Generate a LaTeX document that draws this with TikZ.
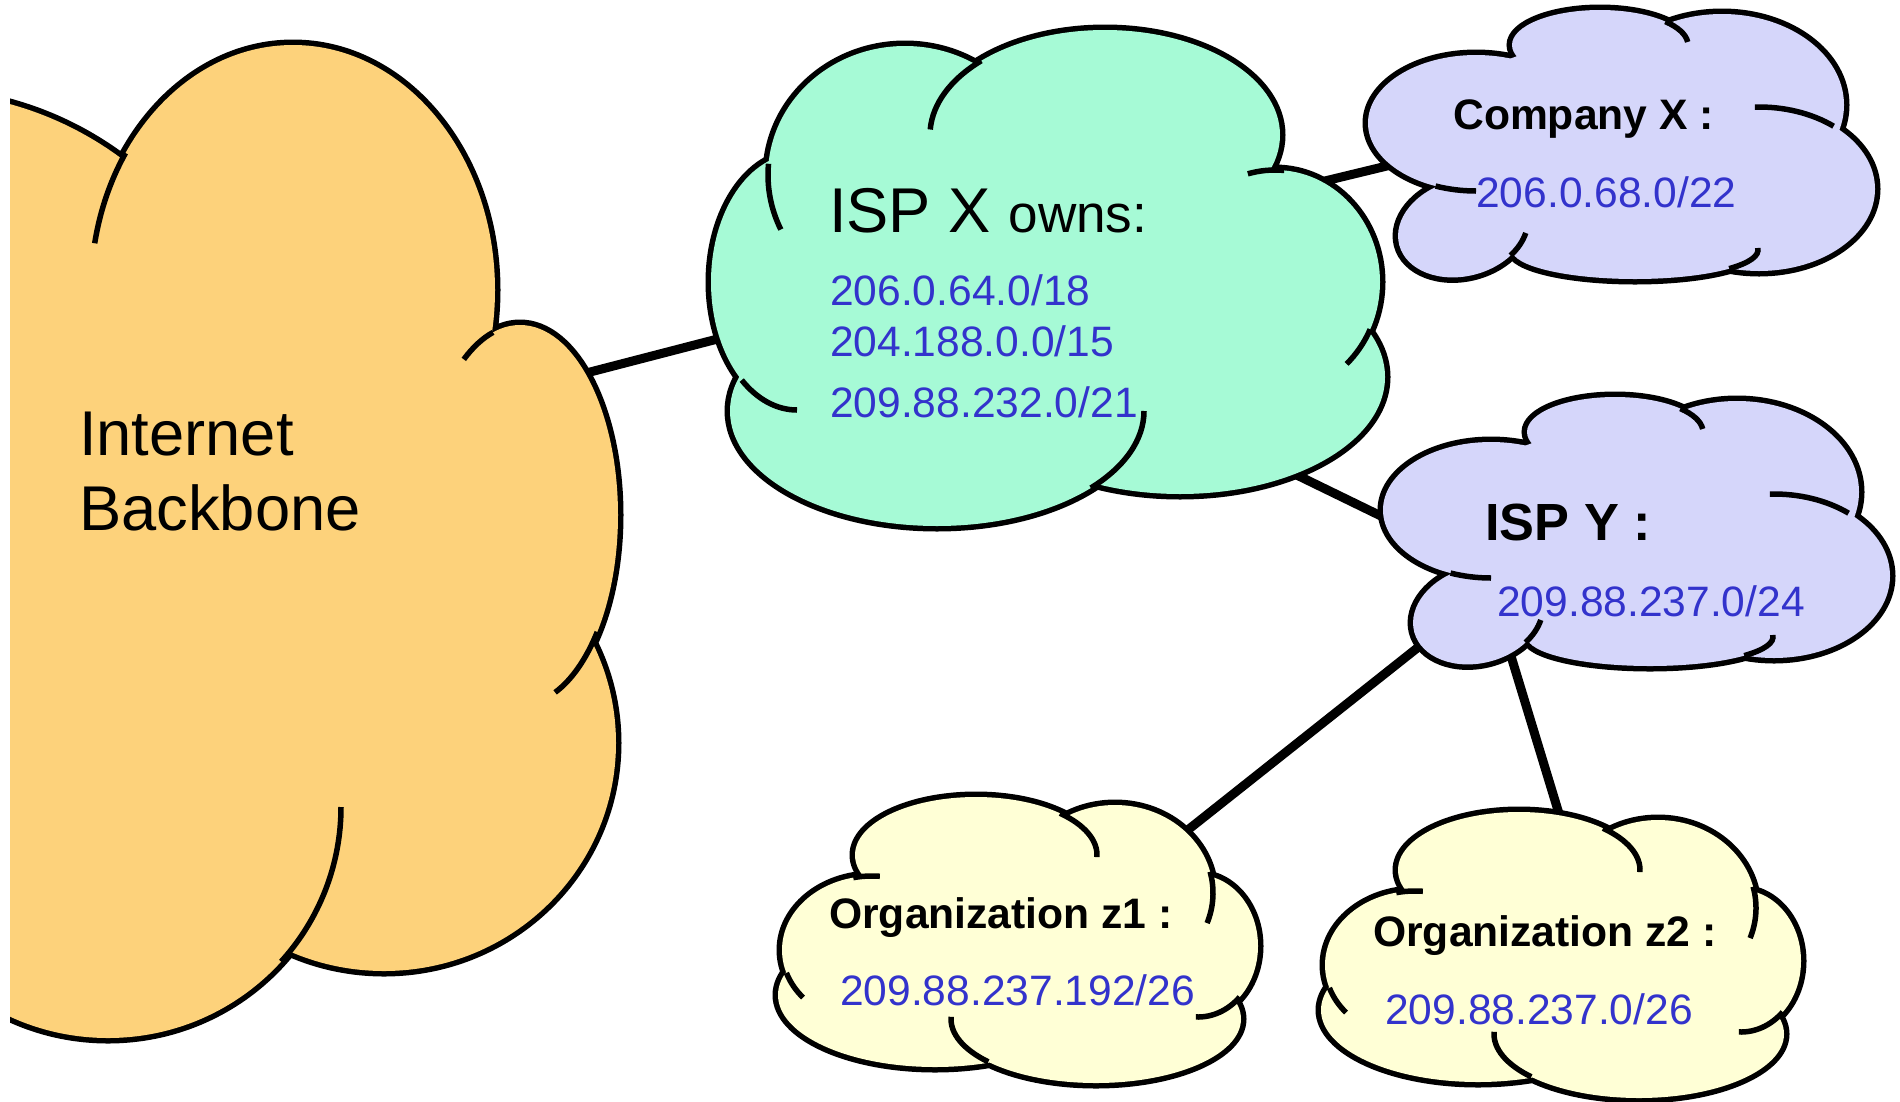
\documentclass[tikz,border=0pt]{standalone}
\usepackage{fontspec}
\setmainfont{Liberation Sans}
\definecolor{bbfill}{RGB}{253,210,123}
\definecolor{ispxfill}{RGB}{166,250,214}
\definecolor{lavfill}{RGB}{213,214,250}
\definecolor{orgfill}{RGB}{255,255,214}
\definecolor{addrblue}{RGB}{51,51,204}
% one lobe of a cloud: centre x, centre y, x radius, y radius
\newcommand\lobe[4]{(#1,#2) ellipse [x radius=#3, y radius=#4]}
% the part of a lobe that runs on inside the cloud: centre, radii, from angle, to angle
\newcommand\lobearc[6]{(#1,#2) ++(#5:#3 and #4) arc [start angle=#5, end angle=#6, x radius=#3, y radius=#4]}
\tikzset{
  rim/.style={line width=11bp},   % twice the outline: the fill hides its inner half
  inner/.style={line width=5.5bp},
  link/.style={line width=9bp},
  bigtxt/.style={inner sep=0pt, anchor=base west, font=\fontsize{63.5}{74}\selectfont},
  lbl/.style={inner sep=0pt, anchor=base west, font=\bfseries\fontsize{42.8}{50}\selectfont},
  addr/.style={inner sep=0pt, anchor=base west, text=addrblue, font=\fontsize{42.7}{50}\selectfont},
  lavcloud/.pic={
    \draw[rim] \lobe{1476}{123}{108}{68} \lobe{1600}{45}{88}{35} \lobe{1722}{105}{122}{91}
               \lobe{1759}{189}{116}{82} \lobe{1635}{250}{123}{29};
    \draw[rim, shift={(1463,228)}, rotate=15] (0,0) ellipse [x radius=66, y radius=48];
    \fill[lavfill] \lobe{1476}{123}{108}{68} \lobe{1600}{45}{88}{35} \lobe{1722}{105}{122}{91}
               \lobe{1759}{189}{116}{82} \lobe{1635}{250}{123}{29};
    \fill[lavfill, shift={(1463,228)}, rotate=15] (0,0) ellipse [x radius=66, y radius=48];
    \fill[lavfill] (1420,100) -- (1480,70) -- (1560,40) -- (1700,40) -- (1800,90) -- (1840,180)
               -- (1760,250) -- (1530,248) -- (1440,225) -- (1470,180) -- cycle;
    \draw[inner] \lobearc{1476}{123}{108}{68}{90}{112}
                 \lobearc{1600}{45}{88}{35}{318}{355}
                 \lobearc{1759}{189}{116}{82}{268}{310}
                 \lobearc{1635}{250}{123}{29}{-4}{40};
    \draw[inner, shift={(1463,228)}, rotate=15] \lobearc{0}{0}{66}{48}{26}{54};
  },
  orgcloud/.pic={
    \draw[rim] \lobe{872}{950}{90}{74} \lobe{976}{855}{121}{58} \lobe{1115}{893}{98}{88}
               \lobe{1198}{946}{60}{71} \lobe{1096}{1019}{145}{64} \lobe{935}{995}{157}{72};
    \fill[orgfill] \lobe{872}{950}{90}{74} \lobe{976}{855}{121}{58} \lobe{1115}{893}{98}{88}
               \lobe{1198}{946}{60}{71} \lobe{1096}{1019}{145}{64} \lobe{935}{995}{157}{72};
    \fill[orgfill] (800,950) -- (870,880) -- (980,830) -- (1110,830) -- (1190,900) -- (1230,960)
               -- (1200,1030) -- (1000,1060) -- (820,1020) -- cycle;
    \draw[inner] \lobearc{872}{950}{90}{74}{258}{275}
                 \lobearc{872}{950}{90}{74}{140}{162}
                 \lobearc{976}{855}{121}{58}{314}{362}
                 \lobearc{1115}{893}{98}{88}{346}{380}
                 \lobearc{1198}{946}{60}{71}{46}{92}
                 \lobearc{1096}{1019}{145}{64}{138}{182};
  }
}
\begin{document}
\begin{tikzpicture}[x=1bp, y=-1bp]
\useasboundingbox (0,0) rectangle (1900,1101);

% ends of the links, inside the clouds
\coordinate (bb-e) at (540,385);
\coordinate (ispx-w) at (760,328);
\coordinate (ispx-ne) at (1300,187);
\coordinate (cox-w) at (1420,158);
\coordinate (ispx-se) at (1270,462);
\coordinate (ispy-w) at (1420,535);
\coordinate (ispy-sw) at (1450,622);
\coordinate (z1-ne) at (1160,852);
\coordinate (ispy-s) at (1500,620);
\coordinate (z2-n) at (1567,840);

\draw[link] (bb-e) -- (ispx-w);
\draw[link] (ispx-ne) -- (cox-w);
\draw[link] (ispx-se) -- (ispy-w);
\draw[link] (ispy-sw) -- (z1-ne);
\draw[link] (ispy-s) -- (z2-n);

% Internet backbone, cut off at the left edge
\begin{scope}
  \clip (10,-20) rectangle (700,1101);
  \draw[rim] \lobe{-80}{430}{338}{338} \lobe{293}{290}{202}{245} \lobe{520}{515}{98}{190}
             \lobe{384}{743}{232}{228} \lobe{108}{807}{233}{231};
  \fill[bbfill] \lobe{-80}{430}{338}{338} \lobe{293}{290}{202}{245} \lobe{520}{515}{98}{190}
             \lobe{384}{743}{232}{228} \lobe{108}{807}{233}{231};
  \fill[bbfill] (10,170) -- (150,170) -- (200,130) -- (290,100) -- (480,340) -- (590,480)
             -- (590,700) -- (300,950) -- (10,1010) -- cycle;
  \draw[inner] \lobearc{293}{290}{202}{245}{191}{214}
               \lobearc{520}{515}{98}{190}{235}{254}
               \lobearc{520}{515}{98}{190}{38}{69}
               \lobearc{108}{807}{233}{231}{0}{42};
\end{scope}

% ISP X
\draw[rim] \lobe{797}{282}{86}{128} \lobe{905}{175}{137}{129} \lobe{1105}{135}{175}{105}
           \lobe{1275}{282}{105}{112} \lobe{1180}{377}{205}{117} \lobe{937}{411}{207}{115};
\fill[ispxfill] \lobe{797}{282}{86}{128} \lobe{905}{175}{137}{129} \lobe{1105}{135}{175}{105}
           \lobe{1275}{282}{105}{112} \lobe{1180}{377}{205}{117} \lobe{937}{411}{207}{115};
\fill[ispxfill] (780,200) -- (900,120) -- (1120,100) -- (1270,200) -- (1360,300) -- (1300,440)
           -- (1000,480) -- (760,380) -- cycle;
\draw[inner] \lobearc{797}{282}{86}{128}{90}{130}
             \lobearc{905}{175}{137}{129}{155}{185}
             \lobearc{1105}{135}{175}{105}{183}{225}
             \lobearc{1275}{282}{105}{112}{255}{275}
             \lobearc{1275}{282}{105}{112}{25}{47}
             \lobearc{937}{411}{207}{115}{0}{42};

% Company X and ISP Y
\pic at (0,0) {lavcloud};
\pic at (15,387) {lavcloud};

% the two organizations
\pic at (0,0) {orgcloud};
\pic at (543,15) {orgcloud};

% labels
\node[bigtxt] (bb-l1) at (79,455) {Internet};
\node[bigtxt] (bb-l2) at (79,530) {Backbone};

\node[bigtxt] (ispx-t) at (829,232) {ISP X {\fontsize{53.3}{60}\selectfont owns:}};
\node[addr] (ispx-a1) at (830,305) {206.0.64.0/18};
\node[addr] (ispx-a2) at (830,356) {204.188.0.0/15};
\node[addr] (ispx-a3) at (830,417) {209.88.232.0/21};

\node[lbl] (cox-t) at (1453,129) {Company X :};
\node[addr] (cox-a) at (1476,207) {206.0.68.0/22};

\node[lbl, font=\bfseries\fontsize{52.5}{60}\selectfont] (ispy-t) at (1485,540) {ISP Y :};
\node[addr] (ispy-a) at (1497,616) {209.88.237.0/24};

\node[lbl] (z1-t) at (829,928) {Organization z1 :};
\node[addr] (z1-a) at (840,1005) {209.88.237.192/26};

\node[lbl] (z2-t) at (1373,946) {Organization z2 :};
\node[addr] (z2-a) at (1385,1024) {209.88.237.0/26};
\end{tikzpicture}
\end{document}
